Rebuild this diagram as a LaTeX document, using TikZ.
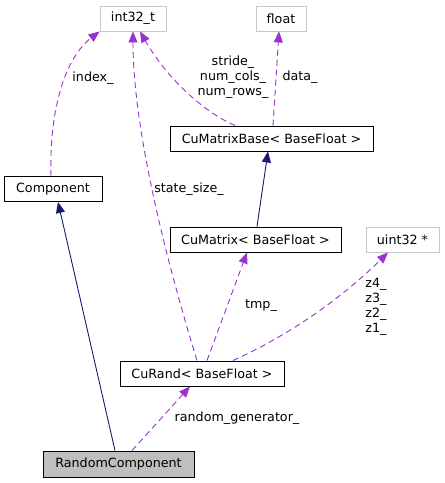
\documentclass[tikz,border=0pt]{standalone}
\usepackage{fontspec}
\setmainfont{DejaVu Sans}
\usetikzlibrary{arrows.meta}
\definecolor{edgep}{HTML}{9A32CD}
\definecolor{edgen}{HTML}{191970}
\definecolor{boxgray}{HTML}{BFBFBF}
\definecolor{boxborder}{HTML}{C8C8C8}
\begin{document}
\begin{tikzpicture}[x=1pt,y=-1pt,
  box/.style={draw=black, line width=0.9pt, minimum height=25pt, inner sep=0pt, font=\fontsize{12.7}{15}\selectfont},
  gbox/.style={box, draw=boxborder},
  lbl/.style={font=\fontsize{12.7}{15}\selectfont, align=center, inner sep=0pt},
  inh/.style={draw=edgen, line width=0.9pt, -{Triangle[length=11pt,width=9pt]}},
  mem/.style={draw=edgep, line width=0.9pt, dash pattern=on 6pt off 4pt, -{Triangle[length=11pt,width=9pt]}},
]
\useasboundingbox (0,0) rectangle (445,483);
% nodes
\node[gbox, minimum width=66pt] (int) at (133,18.5) {int32\_t};
\node[gbox, minimum width=50pt] (flt) at (281,18.5) {float};
\node[box, minimum width=98pt] (comp) at (53,189) {Component};
\node[box, minimum width=203pt] (cmb) at (271.5,138.5) {CuMatrixBase< BaseFloat >};
\node[box, minimum width=171pt] (cm) at (255.5,239.5) {CuMatrix< BaseFloat >};
\node[gbox, minimum width=73pt] (uint) at (402.5,239.5) {uint32 *};
\node[box, minimum width=164pt] (cr) at (202,373.5) {CuRand< BaseFloat >};
\node[box, minimum width=151pt, minimum height=26pt, fill=boxgray] (rc) at (118.5,464) {RandomComponent};
% inheritance
\draw[inh] ([xshift=-3.5pt]rc.north) -- ([xshift=5pt]comp.south);
\draw[inh] ([xshift=1.5pt]cm.north) -- ([xshift=-3.5pt]cmb.south);
% members
\draw[mem] ([xshift=-2pt]comp.north) .. controls (49,110) and (65,58) .. (int.south west);
\draw[mem] ([xshift=-5pt]cr.north) .. controls (160,240) and (133,120) .. (int.south);
\draw[mem] ([xshift=-36.5pt]cmb.north) .. controls (200,110) and (165,75) .. ([xshift=7pt]int.south);
\draw[mem] ([xshift=1.5pt]cmb.north) -- ([xshift=-2pt]flt.south);
\draw[mem] ([xshift=5pt]cr.north) -- ([xshift=-8.5pt]cm.south);
\draw[mem] ([xshift=31pt]cr.north) .. controls (300,330) and (350,290) .. ([xshift=-14.5pt]uint.south);
\draw[mem] ([xshift=13.5pt]rc.north) -- ([xshift=-12pt]cr.south);
% labels
\node[lbl] (lidx) at (93,78) {index\_};
\node[lbl] (lss) at (189,189) {state\_size\_};
\node[lbl] (lstr) at (233,77) {stride\_\\num\_cols\_\\num\_rows\_};
\node[lbl] (ldat) at (300,77) {data\_};
\node[lbl] (ltmp) at (261,306) {tmp\_};
\node[lbl] (lz) at (376,307) {z4\_\\z3\_\\z2\_\\z1\_};
\node[lbl] (lrg) at (237,418) {random\_generator\_};
\end{tikzpicture}
\end{document}
